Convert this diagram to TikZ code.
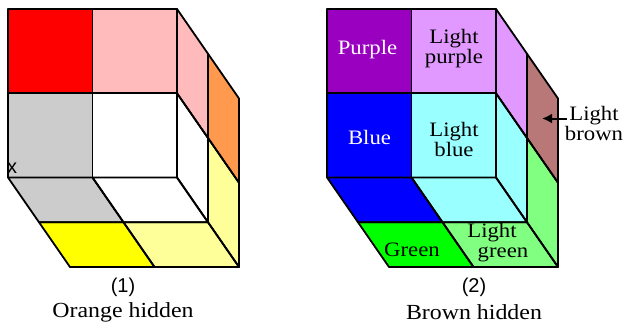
\documentclass[tikz,border=0pt]{standalone}
\usepackage{fontspec}
\setmainfont[FakeStretch=1.11]{Liberation Serif}
\newfontfamily\lblsans{Liberation Sans}
\definecolor{cred}{HTML}{FF0000}
\definecolor{cyel}{HTML}{FFFF00}
\definecolor{cblue}{HTML}{0000FF}
\definecolor{cgreen}{HTML}{00FF00}
\definecolor{cpink}{HTML}{FFBBBB}
\definecolor{cgray}{HTML}{CCCCCC}
\definecolor{corange}{HTML}{FF994D}
\definecolor{cpaley}{HTML}{FFFF99}
\definecolor{cpurple}{HTML}{9900BF}
\definecolor{clpurple}{HTML}{E199FF}
\definecolor{clblue}{HTML}{99FFFF}
\definecolor{clgreen}{HTML}{80FF80}
\definecolor{clbrown}{HTML}{B87878}
\newcommand{\cubepts}[2]{%
  \foreach \i in {0,1,2}{\foreach \j in {0,1,2}{\foreach \k in {0,1,2}{%
    \pgfmathsetmacro{\px}{#2+8+84.5*\i+31*\k}%
    \pgfmathsetmacro{\py}{9+84.25*\j+44.75*\k}%
    \coordinate (#1\i\j\k) at (\px,\py);
  }}}}
% front faces: column i, row j
\newcommand{\frontface}[4]{\path[fill=#2,cell] (#1#3#40)--(#1\the\numexpr#3+1\relax#40)--(#1\the\numexpr#3+1\relax\the\numexpr#4+1\relax0)--(#1#3\the\numexpr#4+1\relax0)--cycle;}
% wall faces: row j, depth k
\newcommand{\wallface}[4]{\path[fill=#2,cell] (#12#3#4)--(#12#3\the\numexpr#4+1\relax)--(#12\the\numexpr#3+1\relax\the\numexpr#4+1\relax)--(#12\the\numexpr#3+1\relax#4)--cycle;}
% floor faces: column i, depth k
\newcommand{\floorface}[4]{\path[fill=#2,cell] (#1#32#4)--(#1\the\numexpr#3+1\relax2#4)--(#1\the\numexpr#3+1\relax2\the\numexpr#4+1\relax)--(#1#32\the\numexpr#4+1\relax)--cycle;}
\newcommand{\cubeone}{%
\frontface{a}{cred}{0}{0}
\frontface{a}{cpink}{1}{0}
\frontface{a}{cgray}{0}{1}
\frontface{a}{white}{1}{1}
\wallface{a}{cpink}{0}{0}
\wallface{a}{corange}{0}{1}
\wallface{a}{white}{1}{0}
\wallface{a}{cpaley}{1}{1}
\floorface{a}{cgray}{0}{0}
\floorface{a}{white}{1}{0}
\floorface{a}{cyel}{0}{1}
\floorface{a}{cpaley}{1}{1}}
\newcommand{\cubetwo}{%
\frontface{b}{cpurple}{0}{0}
\frontface{b}{clpurple}{1}{0}
\frontface{b}{cblue}{0}{1}
\frontface{b}{clblue}{1}{1}
\wallface{b}{clpurple}{0}{0}
\wallface{b}{clbrown}{0}{1}
\wallface{b}{clblue}{1}{0}
\wallface{b}{clgreen}{1}{1}
\floorface{b}{cblue}{0}{0}
\floorface{b}{clblue}{1}{0}
\floorface{b}{cgreen}{0}{1}
\floorface{b}{clgreen}{1}{1}}
\usetikzlibrary{arrows.meta}
\tikzset{
  cell/.style={},
  strokepass/.style={cell/.style={draw=black,fill=none,line width=1.8pt,line join=round}},
  lbl/.style={font=\fontsize{20.5}{20}\selectfont,align=center,inner sep=0pt,text=black},
  lblw/.style={lbl,text=white},
  capt/.style={lbl,font=\fontsize{21.5}{20}\selectfont},
  num/.style={font=\lblsans\fontsize{20}{22}\selectfont,inner sep=0pt},
  pointer/.style={-{Latex[length=10pt,width=10pt]},line width=2pt}
}
\begin{document}
\begin{tikzpicture}[x=1pt,y=-1pt]
\useasboundingbox (0,0) rectangle (623,324);
\cubepts{a}{0}
\cubepts{b}{319}
\cubeone
\cubetwo
\begin{scope}[strokepass]
\cubeone
\cubetwo
\end{scope}
% labels
\node[num] (mark) at (12,168) {x};
\node[num] (n1) at (123,287) {(1)};
\node[capt] (t1) at (123,312) {Orange hidden};
\node[num] (n2) at (474,287) {(2)};
\node[capt] (t2) at (474,312) {Brown hidden};
\node[lblw] (purple) at (367.5,50) {Purple};
\node[lbl] (lpurple) at (454,48.5) {Light\\purple};
\node[lblw] (blue) at (369.5,137) {Blue};
\node[lbl] (lblue) at (454,139) {Light\\blue};
\node[lbl] (green) at (412,250) {Green};
\node[lbl] (lg1) at (492,233) {Light};
\node[lbl] (lg2) at (503,254) {green};
\node[lbl] (lbrown) at (594,123) {Light\\brown};
\coordinate (tip) at (542,118.5);
\draw[pointer] (lbrown.west |- tip) ++(2,0) -- (tip);
\end{tikzpicture}
\end{document}
